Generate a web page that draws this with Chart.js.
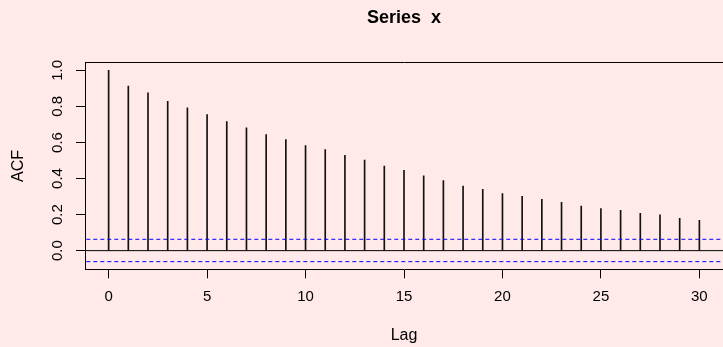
<!DOCTYPE html>
<html><head><meta charset="utf-8">
<script src="https://cdn.jsdelivr.net/npm/chart.js@4.4.0/dist/chart.umd.min.js"></script>
<style>html,body{margin:0;padding:0;background:#FFE9E9;overflow:hidden}canvas{display:block}</style>
</head><body>
<canvas id="c" width="723" height="347"></canvas>
<script>
// ---- data ----
const lags = [0,1,2,3,4,5,6,7,8,9,10,11,12,13,14,15,16,17,18,19,20,21,22,23,24,25,26,27,28,29,30];
const acfValues = [1.000,0.913,0.876,0.828,0.792,0.755,0.716,0.681,0.644,0.616,0.583,0.561,0.528,0.502,0.469,
                   0.445,0.415,0.389,0.358,0.340,0.317,0.301,0.284,0.268,0.247,0.234,0.223,0.207,0.198,0.179,0.168];
const ciUpper = 0.063;
const ciLower = -0.061;
const xTickValues = [0,5,10,15,20,25,30];
const yTickValues = [0.0,0.2,0.4,0.6,0.8,1.0];
const yTickLabels = ['0.0','0.2','0.4','0.6','0.8','1.0'];
const chartTitle = 'Series  x';
const xLabel = 'Lag';
const yLabel = 'ACF';

// R-style 4% axis extension
const xLo = Math.min(...lags), xHi = Math.max(...lags);
const yLo = Math.min(ciLower, ...acfValues), yHi = Math.max(ciUpper, ...acfValues);
const xMin = xLo - 0.04*(xHi-xLo), xMax = xHi + 0.04*(xHi-xLo);
const yMin = yLo - 0.04*(yHi-yLo), yMax = yHi + 0.04*(yHi-yLo);

const FONT = "'Liberation Sans', Arial, Helvetica, sans-serif";

const spikes = lags.map((l,i)=>({x:l, y:acfValues[i]}));
const hline = v => [{x:xMin-1, y:v},{x:xMax+1, y:v}];

new Chart(document.getElementById('c'), {
  type: 'bar',
  data: {
    datasets: [
      { type:'bar', data: spikes, backgroundColor:'#111', borderWidth:0, barThickness:1, xAxisID:'x', yAxisID:'y', order:2 },
      { type:'line', data: hline(0), borderColor:'#000', borderWidth:1, pointRadius:0, xAxisID:'x', yAxisID:'y', order:1 },
      { type:'line', data: hline(ciUpper), borderColor:'#0000FF', borderWidth:1, borderDash:[4,3], pointRadius:0, xAxisID:'x', yAxisID:'y', order:1 },
      { type:'line', data: hline(ciLower), borderColor:'#0000FF', borderWidth:1, borderDash:[4,3], pointRadius:0, xAxisID:'x', yAxisID:'y', order:1 }
    ]
  },
  options: {
    responsive:false, animation:false, devicePixelRatio:1,
    layout: { padding: { left:0, top:0, bottom:0, right:-7.8 } },
    plugins: {
      legend: { display:false }, tooltip: { enabled:false },
      title: { display:true, text: chartTitle, fullSize:false, color:'#000',
               font:{ family:FONT, size:18, weight:'bold', lineHeight:1.2 }, padding:{ top:7.5, bottom:0 } }
    },
    scales: {
      x: {
        type:'linear', position:'bottom', min:xMin, max:xMax, offset:false,
        afterFit: s => { s.height = 77.7; },
        afterBuildTicks: s => { s.ticks = xTickValues.map(v=>({value:v})); },
        grid: { offset:false, drawOnChartArea:false, drawTicks:true, tickLength:9, color:'#000', lineWidth:1 },
        border: { display:true, color:'#000', width:1 },
        ticks: { color:'#000', font:{ family:FONT, size:15 }, padding:10, maxRotation:0, autoSkip:false },
        title: { display:true, text:xLabel, color:'#000', font:{ family:FONT, size:16 }, padding:{ top:0, bottom:1.7 } }
      },
      x2: {
        type:'linear', position:'top', min:xMin, max:xMax, offset:false,
        afterFit: s => { s.height = 33.6; },
        grid: { display:false, offset:false },
        border: { display:true, color:'#000', width:1 },
        ticks: { display:false }
      },
      y: {
        type:'linear', position:'left', min:yMin, max:yMax,
        afterFit: s => { s.width = 85; },
        afterBuildTicks: s => { s.ticks = yTickValues.map(v=>({value:v})); },
        grid: { drawOnChartArea:false, drawTicks:true, tickLength:9, color:'#000', lineWidth:1 },
        border: { display:true, color:'#000', width:1 },
        ticks: { color:'#000', font:{ family:FONT, size:15 }, padding:8, minRotation:90, maxRotation:90, crossAlign:'center',
                 callback: (v) => { const i = yTickValues.findIndex(t=>Math.abs(t-v)<1e-9); return i>=0 ? yTickLabels[i] : ''; } },
        title: { display:true, text:yLabel, color:'#000', font:{ family:FONT, size:16 }, padding:{ top:9.4, bottom:0 } }
      }
    }
  }
});
</script>
</body></html>
